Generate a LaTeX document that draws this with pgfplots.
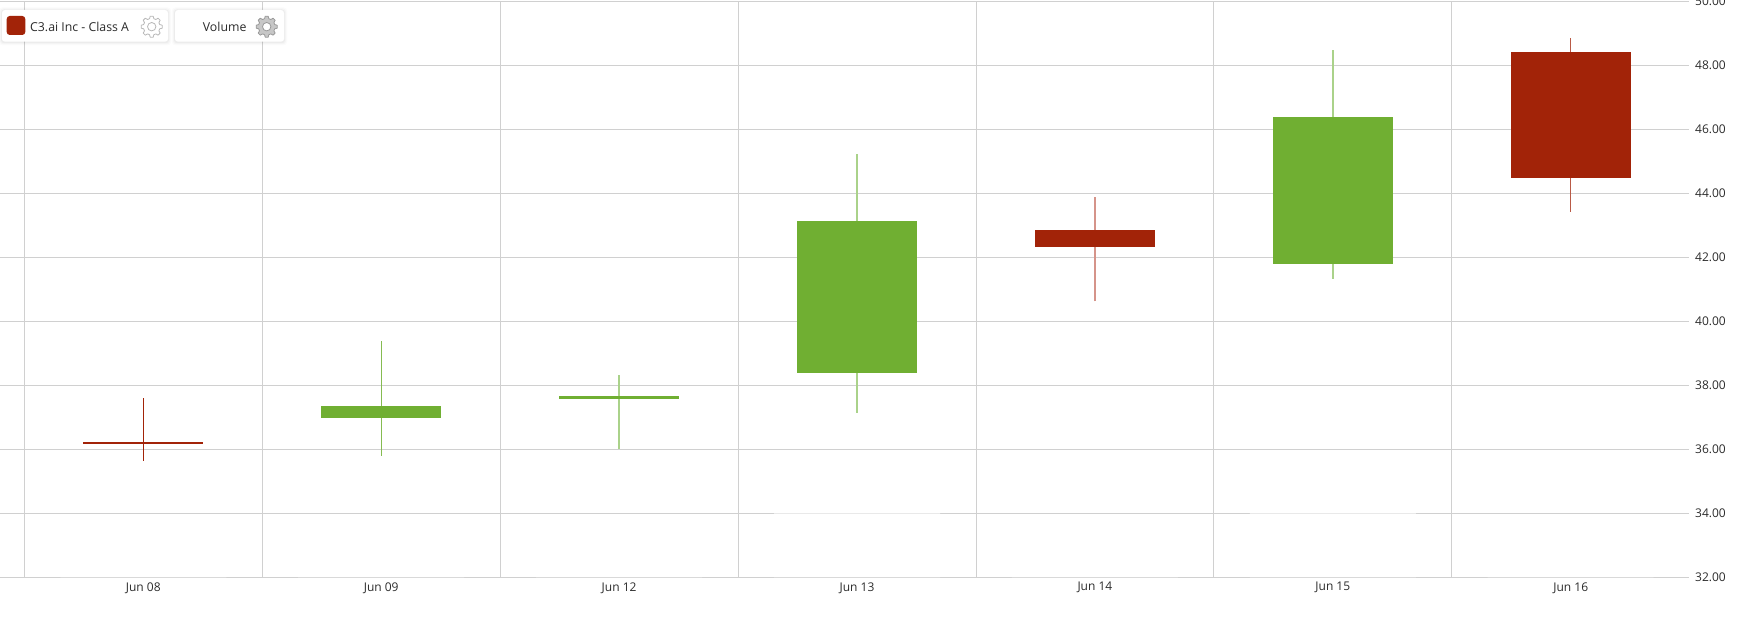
\documentclass[border=0pt]{standalone}
\usepackage{fontspec}
\setmainfont{Open Sans}
\usepackage{pgfplots}
\pgfplotsset{compat=1.18}
\definecolor{upgreen}{HTML}{70AF32}
\definecolor{downred}{HTML}{A22308}
\definecolor{wickgreen}{HTML}{AAD28A}
\definecolor{wickred}{HTML}{D5948A}
\definecolor{gridgray}{HTML}{D0D0D0}
\definecolor{labelgray}{HTML}{2B2B2B}
\newcommand{\labelfont}{\fontsize{12}{14}\selectfont}
\newcommand{\chipfont}{\fontsize{12.3}{14}\selectfont}
% legend box: x0, x1 in pixels from left, top and bottom from the picture top
\newcommand{\legendbox}[2]{%
  \foreach \g/\o in {3/0.015,2/0.025,1/0.035}{
    \fill[black,opacity=\o,rounded corners=3pt] (#1-\g,577.3-41.7-\g-0.5) rectangle (#2+\g,577.3-10+\g-0.5);
  }
  \fill[white,rounded corners=3pt] (#1,577.3-41.7) rectangle (#2,577.3-10);
}
\newcommand{\gear}[4]{%
  \begin{scope}[shift={(#1,550.6)}]
    \draw[#2,fill=#3,line width=0.8pt,line join=round] (-8:10.6)
      \foreach \a in {0,45,...,315}{ -- (\a-8:10.6) -- (\a+8:10.6) -- (\a+15:8.3) -- (\a+30:8.3) } -- cycle;
    \draw[#2,fill=white,line width=0.8pt] (0,0) circle (#4);
  \end{scope}
}
\begin{document}
\begin{tikzpicture}[x=1pt,y=1pt]
\useasboundingbox (0,-49.7) rectangle (1749,577.3);
\begin{axis}[
  at={(0pt,0pt)},anchor=south west,
  scale only axis,
  width=1689pt,height=575.6pt,
  xmin=-0.6024,xmax=6.497,
  ymin=32,ymax=50,
  axis line style={draw=none},
  tick style={draw=none},
  major tick length=0pt,minor tick length=0pt,
  xtick={0,1,2,3,4,5,6},
  xticklabels={Jun 08,Jun 09,Jun 12,Jun 13,Jun 14,Jun 15,Jun 16},
  minor xtick={-0.5,0.5,1.5,2.5,3.5,4.5,5.5},
  ytick={32,34,36,38,40,42,44,46,48,50},
  yticklabel pos=right,
  xminorgrids=true,ymajorgrids=true,xmajorgrids=false,
  grid style={gridgray,line width=0.75pt},
  minor grid style={gridgray,line width=0.75pt},
  /pgf/number format/assume math mode=true,
  /pgf/number format/fixed,
  /pgf/number format/fixed zerofill,
  /pgf/number format/precision=2,
  ticklabel style={font=\labelfont,text=labelgray,inner sep=0pt},
  xticklabel style={anchor=center,yshift=-10.5pt},
  yticklabel style={anchor=west,xshift=6pt},
]
% volume bars, almost white
\addplot[ybar,bar width=166pt,bar shift=0pt,draw=none,fill=white,fill opacity=0.55] coordinates {
  (0,33.0) (1,33.0) (2,32.8) (3,34.1) (4,33.4) (5,34.1) (6,33.4)
};
% Jun 08
\addplot[downred,line width=1pt,forget plot] coordinates {(0,35.64) (0,37.60)};
\addplot[fill=downred,draw=none] coordinates {(-0.252,36.18) (0.252,36.18) (0.252,36.24) (-0.252,36.24)} --cycle;
% Jun 09
\addplot[upgreen!85!white,line width=1pt] coordinates {(1,35.80) (1,39.39)};
\addplot[fill=upgreen,draw=none] coordinates {(0.748,36.97) (1.252,36.97) (1.252,37.35) (0.748,37.35)} --cycle;
% Jun 12
\addplot[wickgreen,line width=1.5pt] coordinates {(2,36.01) (2,38.33)};
\addplot[fill=upgreen,draw=none] coordinates {(1.748,37.58) (2.252,37.58) (2.252,37.67) (1.748,37.67)} --cycle;
% Jun 13
\addplot[wickgreen,line width=1.5pt] coordinates {(3,37.15) (3,45.23)};
\addplot[fill=upgreen,draw=none] coordinates {(2.748,38.39) (3.252,38.39) (3.252,43.14) (2.748,43.14)} --cycle;
% Jun 14
\addplot[wickred,line width=1.5pt] coordinates {(4,40.63) (4,43.89)};
\addplot[fill=downred,draw=none] coordinates {(3.748,42.34) (4.252,42.34) (4.252,42.85) (3.748,42.85)} --cycle;
% Jun 15
\addplot[wickgreen,line width=1.5pt] coordinates {(5,41.34) (5,48.49)};
\addplot[fill=upgreen,draw=none] coordinates {(4.748,41.81) (5.252,41.81) (5.252,46.39) (4.748,46.39)} --cycle;
% Jun 16
\addplot[downred!75!white,line width=1pt] coordinates {(6,43.43) (6,48.86)};
\addplot[fill=downred,draw=none] coordinates {(5.748,44.48) (6.252,44.48) (6.252,48.42) (5.748,48.42)} --cycle;
\end{axis}
% series chips top left
\legendbox{2}{168}
\legendbox{175}{284}
\fill[downred,rounded corners=3pt] (6.7,577.3-35) rectangle (25.3,577.3-16);
\node[anchor=west,inner sep=0pt,text=labelgray,font=\chipfont] at (30,550.6) {C3.ai Inc - Class A};
\node[anchor=west,inner sep=0pt,text=labelgray,font=\chipfont] at (202.7,550.6) {Volume};
\gear{151.7}{black!28}{white}{4.2}
\gear{266.7}{black!40}{black!22}{4.2}
\end{tikzpicture}
\end{document}
